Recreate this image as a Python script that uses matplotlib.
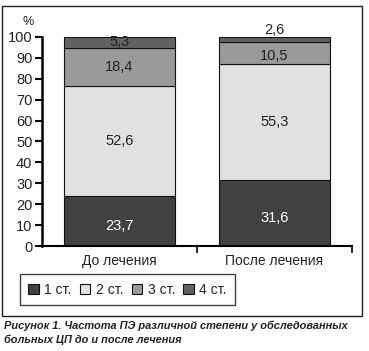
import matplotlib.pyplot as plt
from matplotlib.patches import Rectangle

plt.rcParams['font.family'] = ['Liberation Sans', 'DejaVu Sans']

groups = ['До лечения', 'После лечения']
grades = ['1 ст.', '2 ст.', '3 ст.', '4 ст.']
values = [
    [23.7, 31.6],   # 1 ст.
    [52.6, 55.3],   # 2 ст.
    [18.4, 10.5],   # 3 ст.
    [5.3, 2.6],     # 4 ст.
]
labels = [
    ['23,7', '31,6'],
    ['52,6', '55,3'],
    ['18,4', '10,5'],
    ['5,3', '2,6'],
]
colors = ['#424242', '#e0e1e2', '#9a9a9a', '#626262']
text_colors = ['white', '#222222', '#222222', '#222222']

fig = plt.figure(figsize=(3.69, 3.51), dpi=100)
ax = fig.add_axes([0.114, 0.299, 0.84, 0.596])

x = [0, 1]
bottom = [0, 0]
for i in range(len(grades)):
    ax.bar(x, values[i], bottom=bottom, width=0.72, color=colors[i],
           edgecolor='#111111', linewidth=0.8, label=grades[i])
    for j in range(2):
        y = bottom[j] + values[i][j] / 2
        if i == 3 and j == 1:
            y = 100 + 3.5
        elif i == 0:
            y = bottom[j] + values[i][j] / 2 - 2.5
        elif i == 2 and j == 1:
            y -= 1.5
        ax.text(x[j], y, labels[i][j], ha='center', va='center',
                fontsize=10.5, color=text_colors[i])
    bottom = [bottom[j] + values[i][j] for j in range(2)]

ax.set_xlim(-0.5, 1.5)
ax.set_ylim(0, 100)
ax.set_yticks(range(0, 101, 10))
ax.set_xticks([0.5, 1.5])
ax.set_xticklabels([])
ax.set_xticks([0, 1], minor=True)
ax.set_xticklabels(groups, minor=True)
ax.tick_params(axis='x', which='minor', length=0, labelsize=10, pad=6,
               labelcolor='#222222')
ax.tick_params(axis='x', which='major', length=5, width=1.2)
ax.tick_params(axis='y', length=5, width=1.5, labelsize=10.5, pad=2,
               labelcolor='#222222')
ax.spines['top'].set_visible(False)
ax.spines['right'].set_visible(False)
ax.spines['left'].set_linewidth(1.8)
ax.spines['bottom'].set_linewidth(1.5)
ax.text(-0.045, 1.07, '%', transform=ax.transAxes, fontsize=9, ha='center',
        va='center', color='#222222')

leg = fig.legend(loc='lower left', bbox_to_anchor=(20 / 369, 1 - 305 / 351),
                 ncol=4, fontsize=10, frameon=True, fancybox=False,
                 handlelength=0.75, handleheight=0.75, handletextpad=0.4,
                 columnspacing=0.6, borderpad=0.6, borderaxespad=0,
                 edgecolor='#111111', labelcolor='#222222')
leg.get_frame().set_linewidth(1.0)

# внешняя рамка
fig.patches.append(Rectangle((2 / 369, 1 - 316 / 351), 360 / 369, 310 / 351,
                             transform=fig.transFigure, fill=False,
                             edgecolor='#222222', linewidth=1.0))

fig.text(4 / 369, 1 - 333 / 351,
         'Рисунок 1. Частота ПЭ различной степени у обследованных\n'
         'больных ЦП до и после лечения',
         fontsize=7.9, fontweight='bold', style='italic', va='center',
         ha='left', linespacing=1.45, color='#222222')

fig.savefig('out.png', dpi=100)
